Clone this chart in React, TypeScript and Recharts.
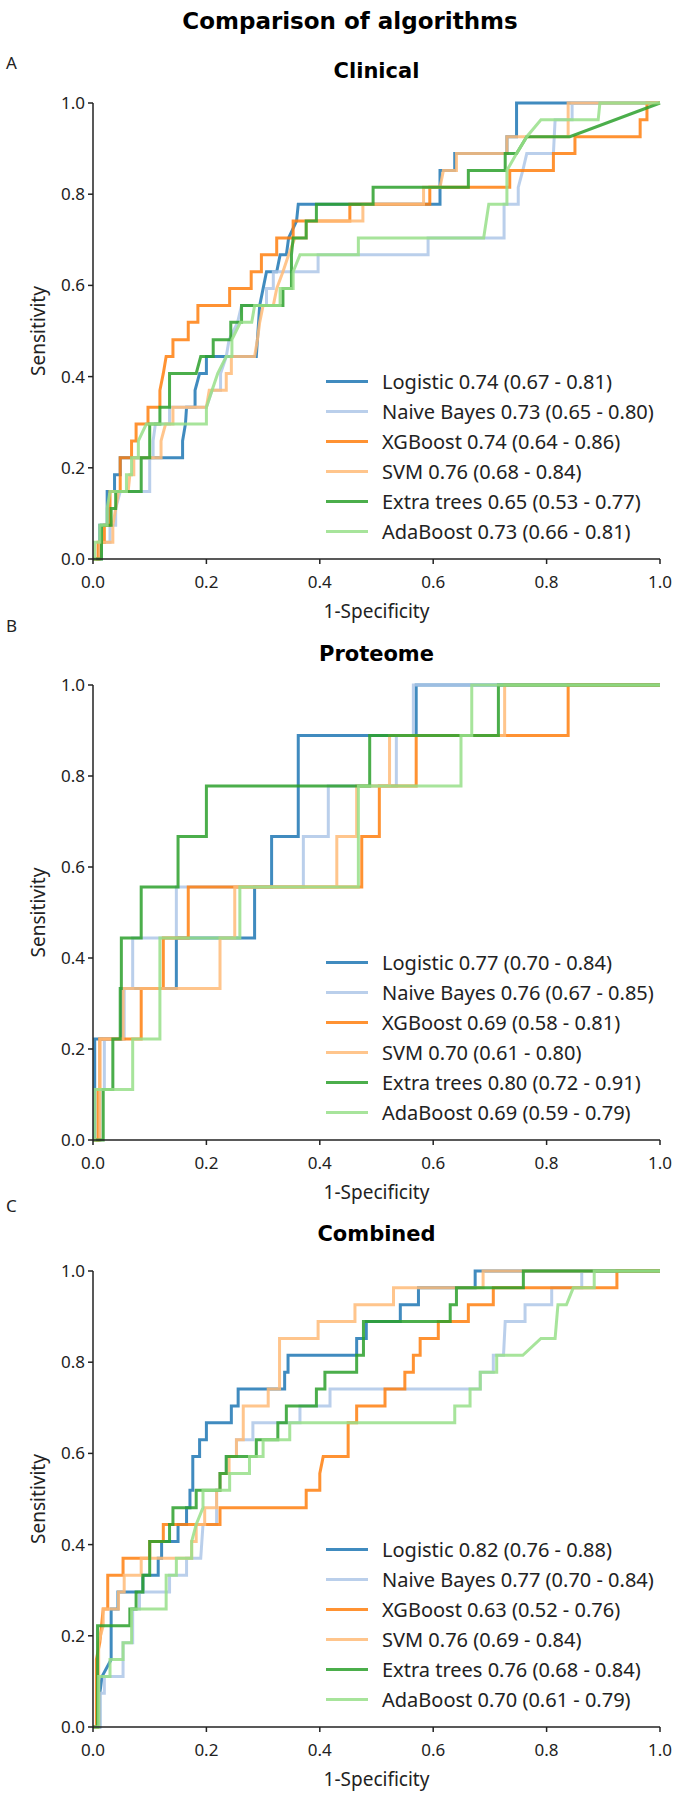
import { LineChart, Line, XAxis, YAxis, Legend } from 'recharts'

type Point = [number, number]

const algorithms = ['Logistic', 'Naive Bayes', 'XGBoost', 'SVM', 'Extra trees', 'AdaBoost']
const colors = ['#1f77b4', '#aec7e8', '#ff7f0e', '#ffbb78', '#2ca02c', '#98df8a']
const axisTicks = [0, 0.2, 0.4, 0.6, 0.8, 1]

const clinicalAuc = ['0.74 (0.67 - 0.81)', '0.73 (0.65 - 0.80)', '0.74 (0.64 - 0.86)', '0.76 (0.68 - 0.84)', '0.65 (0.53 - 0.77)', '0.73 (0.66 - 0.81)']
const proteomeAuc = ['0.77 (0.70 - 0.84)', '0.76 (0.67 - 0.85)', '0.69 (0.58 - 0.81)', '0.70 (0.61 - 0.80)', '0.80 (0.72 - 0.91)', '0.69 (0.59 - 0.79)']
const combinedAuc = ['0.82 (0.76 - 0.88)', '0.77 (0.70 - 0.84)', '0.63 (0.52 - 0.76)', '0.76 (0.69 - 0.84)', '0.76 (0.68 - 0.84)', '0.70 (0.61 - 0.79)']

// [1-specificity, sensitivity]

const clinicalLogistic: Point[] = [[0, 0], [0.012, 0], [0.012, 0.074], [0.025, 0.074], [0.025, 0.148], [0.038, 0.148], [0.038, 0.185], [0.048, 0.185], [0.048, 0.222], [0.158, 0.222], [0.158, 0.259], [0.163, 0.296], [0.165, 0.333], [0.18, 0.333], [0.18, 0.37], [0.188, 0.407], [0.2, 0.407], [0.2, 0.444], [0.288, 0.444], [0.29, 0.481], [0.294, 0.556], [0.3, 0.593], [0.306, 0.63], [0.324, 0.63], [0.33, 0.667], [0.341, 0.667], [0.345, 0.704], [0.359, 0.741], [0.362, 0.778], [0.612, 0.778], [0.612, 0.852], [0.638, 0.852], [0.638, 0.889], [0.73, 0.889], [0.73, 0.926], [0.747, 0.926], [0.747, 1], [1, 1]]
const clinicalNaiveBayes: Point[] = [[0, 0], [0.015, 0], [0.015, 0.037], [0.03, 0.037], [0.03, 0.074], [0.04, 0.074], [0.04, 0.111], [0.048, 0.148], [0.1, 0.148], [0.1, 0.222], [0.106, 0.222], [0.106, 0.259], [0.11, 0.296], [0.135, 0.296], [0.135, 0.333], [0.2, 0.333], [0.21, 0.37], [0.225, 0.37], [0.225, 0.407], [0.235, 0.444], [0.24, 0.481], [0.255, 0.519], [0.262, 0.556], [0.306, 0.556], [0.306, 0.593], [0.318, 0.593], [0.318, 0.63], [0.397, 0.63], [0.397, 0.667], [0.591, 0.667], [0.591, 0.704], [0.725, 0.704], [0.725, 0.778], [0.75, 0.778], [0.75, 0.815], [0.758, 0.852], [0.765, 0.889], [0.812, 0.889], [0.815, 0.963], [0.845, 0.963], [0.845, 1], [1, 1]]
const clinicalXGBoost: Point[] = [[0, 0], [0.009, 0], [0.009, 0.037], [0.02, 0.037], [0.02, 0.074], [0.03, 0.074], [0.03, 0.148], [0.048, 0.148], [0.048, 0.222], [0.068, 0.222], [0.068, 0.259], [0.076, 0.259], [0.076, 0.296], [0.097, 0.296], [0.097, 0.333], [0.118, 0.333], [0.118, 0.37], [0.124, 0.407], [0.129, 0.444], [0.141, 0.444], [0.141, 0.481], [0.168, 0.481], [0.168, 0.519], [0.185, 0.519], [0.185, 0.556], [0.241, 0.556], [0.241, 0.593], [0.279, 0.593], [0.279, 0.63], [0.297, 0.63], [0.297, 0.667], [0.324, 0.667], [0.324, 0.704], [0.353, 0.704], [0.353, 0.741], [0.453, 0.741], [0.453, 0.778], [0.594, 0.778], [0.594, 0.815], [0.735, 0.815], [0.735, 0.852], [0.812, 0.852], [0.812, 0.889], [0.85, 0.889], [0.85, 0.926], [0.965, 0.926], [0.965, 0.963], [0.977, 0.963], [0.977, 1], [1, 1]]
const clinicalSVM: Point[] = [[0, 0], [0.012, 0], [0.012, 0.037], [0.035, 0.037], [0.035, 0.074], [0.04, 0.111], [0.045, 0.148], [0.062, 0.148], [0.065, 0.185], [0.072, 0.185], [0.072, 0.222], [0.12, 0.222], [0.12, 0.259], [0.128, 0.296], [0.141, 0.296], [0.141, 0.333], [0.2, 0.333], [0.205, 0.37], [0.235, 0.37], [0.235, 0.407], [0.244, 0.407], [0.244, 0.444], [0.285, 0.444], [0.29, 0.481], [0.294, 0.519], [0.3, 0.556], [0.318, 0.556], [0.324, 0.593], [0.335, 0.63], [0.345, 0.667], [0.356, 0.704], [0.376, 0.704], [0.376, 0.741], [0.476, 0.741], [0.476, 0.778], [0.583, 0.778], [0.583, 0.815], [0.612, 0.815], [0.618, 0.852], [0.641, 0.852], [0.641, 0.889], [0.73, 0.889], [0.73, 0.926], [0.838, 0.926], [0.838, 1], [1, 1]]
const clinicalExtraTrees: Point[] = [[0, 0], [0.015, 0], [0.015, 0.074], [0.032, 0.074], [0.032, 0.111], [0.04, 0.111], [0.04, 0.148], [0.085, 0.148], [0.085, 0.222], [0.1, 0.222], [0.1, 0.296], [0.118, 0.296], [0.118, 0.333], [0.135, 0.333], [0.135, 0.407], [0.182, 0.407], [0.19, 0.444], [0.212, 0.444], [0.212, 0.481], [0.243, 0.481], [0.243, 0.519], [0.262, 0.519], [0.262, 0.556], [0.335, 0.556], [0.335, 0.593], [0.35, 0.593], [0.35, 0.667], [0.353, 0.704], [0.376, 0.704], [0.376, 0.741], [0.394, 0.741], [0.394, 0.778], [0.494, 0.778], [0.494, 0.815], [0.662, 0.815], [0.662, 0.852], [0.727, 0.852], [0.727, 0.889], [0.747, 0.889], [0.765, 0.926], [0.841, 0.926], [1, 1]]
const clinicalAdaBoost: Point[] = [[0, 0], [0.003, 0], [0.003, 0.037], [0.012, 0.037], [0.012, 0.074], [0.025, 0.074], [0.025, 0.111], [0.03, 0.148], [0.059, 0.148], [0.059, 0.185], [0.068, 0.185], [0.068, 0.222], [0.08, 0.222], [0.08, 0.259], [0.094, 0.296], [0.2, 0.296], [0.2, 0.333], [0.21, 0.37], [0.22, 0.407], [0.235, 0.444], [0.245, 0.444], [0.245, 0.481], [0.26, 0.519], [0.28, 0.519], [0.285, 0.556], [0.33, 0.556], [0.33, 0.593], [0.353, 0.593], [0.353, 0.63], [0.365, 0.667], [0.468, 0.667], [0.468, 0.704], [0.689, 0.704], [0.698, 0.778], [0.73, 0.778], [0.73, 0.852], [0.747, 0.889], [0.765, 0.926], [0.79, 0.963], [0.891, 0.963], [0.894, 1], [1, 1]]

const proteomeLogistic: Point[] = [[0, 0], [0.003, 0], [0.003, 0.222], [0.05, 0.222], [0.05, 0.333], [0.147, 0.333], [0.147, 0.444], [0.285, 0.444], [0.285, 0.556], [0.315, 0.556], [0.315, 0.667], [0.362, 0.667], [0.362, 0.889], [0.57, 0.889], [0.57, 1], [1, 1]]
const proteomeNaiveBayes: Point[] = [[0, 0], [0.012, 0], [0.012, 0.111], [0.02, 0.111], [0.02, 0.222], [0.055, 0.222], [0.055, 0.333], [0.07, 0.333], [0.07, 0.444], [0.147, 0.444], [0.147, 0.556], [0.371, 0.556], [0.371, 0.667], [0.415, 0.667], [0.415, 0.778], [0.535, 0.778], [0.535, 0.889], [0.565, 0.889], [0.565, 1], [1, 1]]
const proteomeXGBoost: Point[] = [[0, 0], [0.009, 0], [0.009, 0.111], [0.012, 0.111], [0.012, 0.222], [0.085, 0.222], [0.085, 0.333], [0.124, 0.333], [0.124, 0.444], [0.168, 0.444], [0.168, 0.556], [0.474, 0.556], [0.474, 0.667], [0.505, 0.667], [0.505, 0.778], [0.57, 0.778], [0.57, 0.889], [0.838, 0.889], [0.838, 1], [1, 1]]
const proteomeSVM: Point[] = [[0, 0], [0.012, 0], [0.012, 0.222], [0.053, 0.222], [0.053, 0.333], [0.224, 0.333], [0.224, 0.444], [0.25, 0.444], [0.25, 0.556], [0.43, 0.556], [0.43, 0.667], [0.465, 0.667], [0.465, 0.778], [0.523, 0.778], [0.523, 0.889], [0.726, 0.889], [0.726, 1], [1, 1]]
const proteomeExtraTrees: Point[] = [[0, 0], [0.018, 0], [0.018, 0.111], [0.035, 0.111], [0.035, 0.222], [0.048, 0.222], [0.048, 0.333], [0.05, 0.333], [0.05, 0.444], [0.085, 0.444], [0.085, 0.556], [0.15, 0.556], [0.15, 0.667], [0.2, 0.667], [0.2, 0.778], [0.488, 0.778], [0.488, 0.889], [0.715, 0.889], [0.715, 1], [1, 1]]
const proteomeAdaBoost: Point[] = [[0, 0], [0.003, 0], [0.003, 0.111], [0.07, 0.111], [0.07, 0.222], [0.118, 0.222], [0.118, 0.444], [0.259, 0.444], [0.259, 0.556], [0.468, 0.556], [0.468, 0.778], [0.649, 0.778], [0.649, 0.889], [0.668, 0.889], [0.668, 1], [1, 1]]

const combinedLogistic: Point[] = [[0, 0], [0.012, 0], [0.012, 0.074], [0.016, 0.111], [0.032, 0.148], [0.032, 0.259], [0.044, 0.259], [0.044, 0.296], [0.088, 0.296], [0.088, 0.333], [0.115, 0.333], [0.115, 0.37], [0.121, 0.37], [0.121, 0.407], [0.15, 0.407], [0.15, 0.444], [0.165, 0.444], [0.165, 0.481], [0.171, 0.481], [0.171, 0.519], [0.176, 0.519], [0.176, 0.593], [0.188, 0.593], [0.188, 0.63], [0.2, 0.63], [0.2, 0.667], [0.244, 0.667], [0.244, 0.704], [0.256, 0.704], [0.256, 0.741], [0.338, 0.741], [0.338, 0.778], [0.344, 0.778], [0.344, 0.815], [0.465, 0.815], [0.465, 0.852], [0.482, 0.852], [0.482, 0.889], [0.542, 0.889], [0.542, 0.926], [0.574, 0.926], [0.574, 0.963], [0.674, 0.963], [0.674, 1], [1, 1]]
const combinedNaiveBayes: Point[] = [[0, 0], [0.012, 0], [0.012, 0.074], [0.02, 0.074], [0.02, 0.111], [0.053, 0.111], [0.053, 0.185], [0.07, 0.185], [0.07, 0.259], [0.082, 0.259], [0.082, 0.296], [0.135, 0.296], [0.135, 0.333], [0.165, 0.333], [0.165, 0.37], [0.19, 0.37], [0.194, 0.444], [0.218, 0.444], [0.218, 0.519], [0.224, 0.519], [0.224, 0.556], [0.235, 0.556], [0.235, 0.593], [0.253, 0.593], [0.253, 0.63], [0.282, 0.63], [0.282, 0.667], [0.365, 0.667], [0.365, 0.704], [0.418, 0.704], [0.418, 0.741], [0.683, 0.741], [0.683, 0.778], [0.706, 0.778], [0.706, 0.815], [0.724, 0.815], [0.727, 0.889], [0.762, 0.889], [0.762, 0.926], [0.809, 0.926], [0.809, 0.963], [0.862, 0.963], [0.862, 1], [1, 1]]
const combinedXGBoost: Point[] = [[0, 0], [0.006, 0], [0.006, 0.148], [0.012, 0.185], [0.018, 0.259], [0.026, 0.259], [0.026, 0.333], [0.053, 0.333], [0.053, 0.37], [0.1, 0.37], [0.1, 0.407], [0.124, 0.407], [0.124, 0.444], [0.224, 0.444], [0.224, 0.481], [0.376, 0.481], [0.376, 0.519], [0.4, 0.519], [0.4, 0.556], [0.406, 0.593], [0.45, 0.593], [0.45, 0.667], [0.465, 0.667], [0.465, 0.704], [0.515, 0.704], [0.515, 0.741], [0.55, 0.741], [0.55, 0.778], [0.565, 0.778], [0.565, 0.815], [0.577, 0.815], [0.577, 0.852], [0.609, 0.852], [0.609, 0.889], [0.662, 0.889], [0.662, 0.926], [0.706, 0.926], [0.706, 0.963], [0.924, 0.963], [0.924, 1], [1, 1]]
const combinedSVM: Point[] = [[0, 0], [0.01, 0], [0.01, 0.185], [0.018, 0.222], [0.018, 0.259], [0.045, 0.259], [0.045, 0.296], [0.055, 0.296], [0.055, 0.333], [0.085, 0.333], [0.085, 0.37], [0.174, 0.37], [0.174, 0.407], [0.182, 0.407], [0.182, 0.444], [0.197, 0.444], [0.197, 0.481], [0.218, 0.481], [0.218, 0.519], [0.224, 0.519], [0.224, 0.556], [0.24, 0.556], [0.24, 0.593], [0.253, 0.593], [0.253, 0.63], [0.265, 0.63], [0.265, 0.704], [0.309, 0.704], [0.309, 0.741], [0.329, 0.741], [0.329, 0.852], [0.397, 0.852], [0.397, 0.889], [0.462, 0.889], [0.462, 0.926], [0.53, 0.926], [0.53, 0.963], [0.688, 0.963], [0.688, 1], [1, 1]]
const combinedExtraTrees: Point[] = [[0, 0], [0.008, 0], [0.008, 0.222], [0.065, 0.222], [0.065, 0.259], [0.076, 0.259], [0.076, 0.296], [0.088, 0.296], [0.088, 0.333], [0.1, 0.333], [0.1, 0.407], [0.135, 0.407], [0.135, 0.444], [0.141, 0.444], [0.141, 0.481], [0.182, 0.481], [0.182, 0.519], [0.224, 0.519], [0.224, 0.556], [0.235, 0.556], [0.235, 0.593], [0.288, 0.593], [0.288, 0.63], [0.326, 0.63], [0.326, 0.667], [0.341, 0.667], [0.341, 0.704], [0.394, 0.704], [0.394, 0.741], [0.409, 0.741], [0.409, 0.778], [0.465, 0.778], [0.465, 0.815], [0.477, 0.815], [0.477, 0.889], [0.63, 0.889], [0.63, 0.926], [0.641, 0.926], [0.641, 0.963], [0.759, 0.963], [0.759, 1], [1, 1]]
const combinedAdaBoost: Point[] = [[0, 0], [0.01, 0], [0.01, 0.111], [0.03, 0.111], [0.03, 0.148], [0.053, 0.148], [0.053, 0.185], [0.068, 0.185], [0.068, 0.259], [0.129, 0.259], [0.129, 0.333], [0.147, 0.333], [0.147, 0.37], [0.174, 0.37], [0.174, 0.407], [0.182, 0.444], [0.194, 0.481], [0.194, 0.519], [0.241, 0.519], [0.241, 0.556], [0.276, 0.556], [0.276, 0.593], [0.3, 0.593], [0.3, 0.63], [0.347, 0.63], [0.347, 0.667], [0.638, 0.667], [0.638, 0.704], [0.665, 0.704], [0.665, 0.741], [0.683, 0.741], [0.683, 0.778], [0.712, 0.778], [0.712, 0.815], [0.758, 0.815], [0.79, 0.852], [0.815, 0.852], [0.82, 0.926], [0.835, 0.926], [0.847, 0.963], [0.884, 0.963], [0.884, 1], [1, 1]]

const FONT = '"Noto Sans", "DejaVu Sans", sans-serif'
const TITLE_FONT = '"DejaVu Sans", "Noto Sans", sans-serif'
const INK = '#222'

const toRows = (pts: Point[]) => pts.map(([x, y]) => ({ x, y }))

type PanelProps = {
  letter: string
  title: string
  curves: Point[][]
  auc: string[]
  top: number
  titleOffset: number
  letterOffset: number
  plotHeight: number
  axisHeight: number
}

function RocPanel({ letter, title, curves, auc, top, titleOffset, letterOffset, plotHeight, axisHeight }: PanelProps) {
  const plotTop = 63
  const plotBottom = plotTop + plotHeight
  const titleY = plotTop - titleOffset

  return (
    <div style={{ position: 'absolute', left: 0, top, width: 678 }}>
      <div style={{ position: 'absolute', left: 6, top: titleY - letterOffset - 9, fontSize: 17, lineHeight: '17px', color: INK }}>
        {letter}
      </div>
      <div
        style={{
          position: 'absolute',
          left: 93,
          width: 567,
          top: titleY - 11,
          textAlign: 'center',
          fontFamily: TITLE_FONT,
          fontSize: 21,
          fontWeight: 700,
          lineHeight: '21px',
          color: '#000',
        }}
      >
        {title}
      </div>
      <LineChart width={678} height={plotBottom + axisHeight} margin={{ top: plotTop, right: 18, bottom: 0, left: 0 }}>
        <XAxis
          type="number"
          dataKey="x"
          domain={[0, 1]}
          ticks={axisTicks}
          height={axisHeight}
          tickSize={5}
          tickMargin={12}
          tickFormatter={(v: number) => v.toFixed(1)}
          tick={{ fontSize: 17, fill: INK }}
          axisLine={{ stroke: INK, strokeWidth: 1.5 }}
          tickLine={{ stroke: INK, strokeWidth: 1.5 }}
          label={{ value: '1-Specificity', position: 'insideTop', offset: 46, style: { fontSize: 19, fill: INK } }}
        />
        <YAxis
          type="number"
          domain={[0, 1]}
          ticks={axisTicks}
          width={93}
          tickSize={5}
          tickMargin={3}
          tickFormatter={(v: number) => v.toFixed(1)}
          tick={{ fontSize: 17, fill: INK }}
          axisLine={{ stroke: INK, strokeWidth: 1.5 }}
          tickLine={{ stroke: INK, strokeWidth: 1.5 }}
          label={{
            value: 'Sensitivity',
            angle: -90,
            position: 'insideLeft',
            offset: 38,
            style: { textAnchor: 'middle', fontSize: 19, fill: INK },
          }}
        />
        <Legend
          layout="vertical"
          align="center"
          verticalAlign="middle"
          wrapperStyle={{ left: 326, top: plotBottom - 193, width: 345 }}
          content={() => (
            <div>
              {algorithms.map((name, i) => (
                <div key={name} style={{ display: 'flex', alignItems: 'center', height: 30 }}>
                  <span style={{ display: 'inline-block', width: 42, height: 3, background: colors[i], opacity: 0.85, marginRight: 14 }} />
                  <span style={{ fontSize: 20, color: INK, whiteSpace: 'nowrap' }}>
                    {name} {auc[i]}
                  </span>
                </div>
              ))}
            </div>
          )}
        />
        {curves.map((pts, i) => (
          <Line
            key={algorithms[i]}
            name={`${algorithms[i]} ${auc[i]}`}
            data={toRows(pts)}
            dataKey="y"
            type="linear"
            stroke={colors[i]}
            strokeOpacity={0.85}
            strokeWidth={3}
            dot={false}
            activeDot={false}
            isAnimationActive={false}
          />
        ))}
      </LineChart>
    </div>
  )
}

export default function App() {
  return (
    <div
      style={{
        position: 'absolute',
        left: 0,
        top: 0,
        width: 678,
        height: 1793,
        background: '#fff',
        fontFamily: FONT,
        overflow: 'hidden',
      }}
    >
      <div
        style={{
          position: 'absolute',
          left: 150,
          width: 400,
          top: 9,
          textAlign: 'center',
          fontFamily: TITLE_FONT,
          fontSize: 23,
          fontWeight: 700,
          lineHeight: '24px',
          color: '#000',
        }}
      >
        Comparison of algorithms
      </div>
      <RocPanel
        letter="A"
        title="Clinical"
        curves={[clinicalLogistic, clinicalNaiveBayes, clinicalXGBoost, clinicalSVM, clinicalExtraTrees, clinicalAdaBoost]}
        auc={clinicalAuc}
        top={40}
        titleOffset={31}
        letterOffset={9}
        plotHeight={456}
        axisHeight={71}
      />
      <RocPanel
        letter="B"
        title="Proteome"
        curves={[proteomeLogistic, proteomeNaiveBayes, proteomeXGBoost, proteomeSVM, proteomeExtraTrees, proteomeAdaBoost]}
        auc={proteomeAuc}
        top={622}
        titleOffset={30}
        letterOffset={29}
        plotHeight={455}
        axisHeight={71}
      />
      <RocPanel
        letter="C"
        title="Combined"
        curves={[combinedLogistic, combinedNaiveBayes, combinedXGBoost, combinedSVM, combinedExtraTrees, combinedAdaBoost]}
        auc={combinedAuc}
        top={1208}
        titleOffset={36}
        letterOffset={29}
        plotHeight={456}
        axisHeight={66}
      />
    </div>
  )
}
